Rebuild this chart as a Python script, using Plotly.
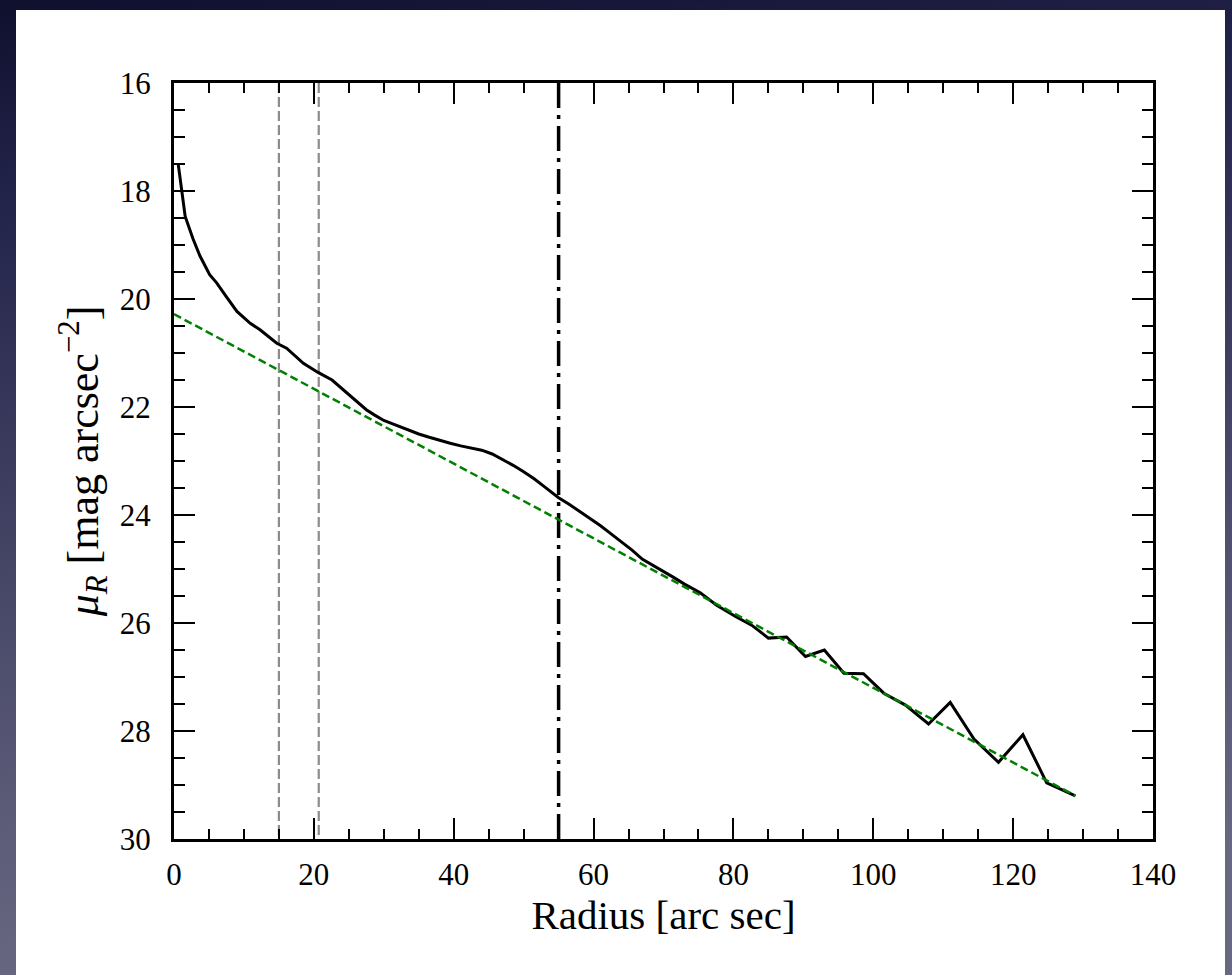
import base64
import plotly.graph_objects as go

# ---- data ----
radius = [0.6, 1.6, 2.7, 3.7, 5.1, 6.1, 7.5, 9.0, 10.9, 12.3, 14.7, 16.1, 18.5, 20.6,
          22.6, 25.2, 26.3, 27.5, 28.7, 30.0, 31.0, 32.0, 33.5, 35.0, 36.5, 38.0, 39.5,
          41.0, 42.5, 44.0, 45.5, 47.0, 48.5, 50.0, 51.5, 53.0, 55.0, 56.5, 58.0, 59.5,
          61.0, 62.5, 64.0, 65.5, 67.0, 68.5, 70.0, 71.5, 73.0, 75.25, 77.6, 80.3, 82.6,
          85.0, 87.6, 90.3, 93.0, 95.8, 98.6, 101.5, 104.6, 107.9, 111.0, 114.4, 117.9,
          121.4, 124.8, 128.9]
mu_r = [17.5, 18.47, 18.88, 19.2, 19.55, 19.7, 19.96, 20.23, 20.45, 20.57, 20.82, 20.91,
        21.19, 21.36, 21.5, 21.8, 21.93, 22.05, 22.15, 22.25, 22.3, 22.35, 22.43, 22.5,
        22.56, 22.62, 22.67, 22.72, 22.76, 22.8, 22.87, 22.97, 23.08, 23.2, 23.33, 23.48,
        23.68, 23.8, 23.93, 24.07, 24.2, 24.35, 24.5, 24.65, 24.82, 24.93, 25.05, 25.16,
        25.28, 25.44, 25.67, 25.88, 26.04, 26.28, 26.26, 26.62, 26.5, 26.93, 26.94, 27.30,
        27.52, 27.87, 27.47, 28.15, 28.58, 28.07, 28.96, 29.2]

fit_radius = [0.0, 128.9]
fit_mu = [20.28, 29.2]

gray_lines = [15.0, 20.7]
break_radius = [55.0]
y_span = [16, 30]

x_ticks = [0, 20, 40, 60, 80, 100, 120, 140]
y_ticks = [16, 18, 20, 22, 24, 26, 28, 30]

# ---- layout geometry ----
W, H = 1232, 975
L, R, T, B = 174, 1232 - 1153, 83, 975 - 839
pw, ph = W - L - R, H - T - B

def px(xp):
    return (xp - L) / pw

def py(yp):
    return (H - B - yp) / ph

FONT = "Liberation Serif"

fig = go.Figure()

for v in gray_lines:
    fig.add_trace(go.Scatter(x=[v, v], y=y_span, mode="lines",
                             line=dict(color="#8c8c8c", width=2.2, dash="10px,4px"),
                             hoverinfo="skip", showlegend=False))

for v in break_radius:
    fig.add_trace(go.Scatter(x=[v, v], y=y_span, mode="lines",
                             line=dict(color="black", width=3.5, dash="25px,7px,4px,7px"),
                             hoverinfo="skip", showlegend=False))

fig.add_trace(go.Scatter(x=radius, y=mu_r, mode="lines",
                         line=dict(color="black", width=3),
                         showlegend=False))

fig.add_trace(go.Scatter(x=fit_radius, y=fit_mu, mode="lines",
                         line=dict(color="#008000", width=2.5, dash="8px,4px"),
                         showlegend=False))

# gradient background via inline SVG
svg = ('<svg xmlns="http://www.w3.org/2000/svg" width="100" height="100" preserveAspectRatio="none">'
       '<defs><linearGradient id="g" x1="0" y1="0" x2="0.15" y2="1">'
       '<stop offset="0" stop-color="#0f102e"/>'
       '<stop offset="0.2" stop-color="#23244a"/>'
       '<stop offset="0.8" stop-color="#5a5a77"/>'
       '<stop offset="1" stop-color="#686882"/>'
       '</linearGradient></defs>'
       '<rect width="100" height="100" fill="url(#g)"/></svg>')
src = "data:image/svg+xml;base64," + base64.b64encode(svg.encode()).decode()

fig.add_layout_image(dict(source=src, xref="paper", yref="paper",
                          x=px(0), y=py(0), sizex=px(W) - px(0), sizey=py(0) - py(H),
                          xanchor="left", yanchor="top", sizing="stretch", layer="below"))

fig.add_shape(type="rect", xref="paper", yref="paper",
              x0=px(16), x1=px(1225), y0=py(10), y1=py(H + 5),
              fillcolor="white", line=dict(width=0), layer="below")

axis_common = dict(
    showline=True, linecolor="black", linewidth=3, mirror="allticks",
    ticks="inside", ticklen=21, tickwidth=2, tickcolor="black",
    showgrid=False, zeroline=False,
    tickfont=dict(family=FONT, size=31, color="black"),
)

fig.update_xaxes(
    range=[0, 140], tickvals=x_ticks, ticktext=[str(t) for t in x_ticks],
    minor=dict(ticks="inside", ticklen=10, tickwidth=2, tickcolor="black", dtick=5, showgrid=False),
    title=dict(text="Radius [arc sec]", font=dict(family=FONT, size=41, color="black"), standoff=8),
    ticklabelstandoff=6,
    **axis_common,
)
fig.update_yaxes(
    range=[30, 16], tickvals=y_ticks, ticktext=[str(t) for t in y_ticks],
    minor=dict(ticks="inside", ticklen=11, tickwidth=2, tickcolor="black", dtick=0.5, showgrid=False),
    title=dict(text="<i>μ</i><sub><i>R</i></sub> [mag arcsec<sup>−2</sup>]",
               font=dict(family=FONT, size=44, color="black"), standoff=8),
    ticklabelstandoff=14,
    **axis_common,
)

fig.update_layout(
    width=W, height=H,
    margin=dict(l=L, r=R, t=T, b=B, autoexpand=False),
    paper_bgcolor="#3a3a5c", plot_bgcolor="white",
    font=dict(family=FONT, color="black"),
)

fig.write_html("out.html")
